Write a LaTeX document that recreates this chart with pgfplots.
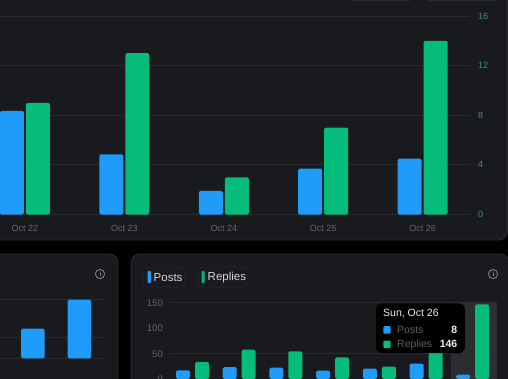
\documentclass[border=0pt]{standalone}
\usepackage{fontspec}
\setmainfont{Liberation Sans}
\usepackage{pgfplots}
\pgfplotsset{compat=1.18}
\definecolor{pg}{HTML}{000000}
\definecolor{panel}{HTML}{191A1E}
\definecolor{edge}{HTML}{2B2C30}
\definecolor{gridc}{HTML}{2A2B2F}
\definecolor{blueb}{HTML}{1F9BFA}
\definecolor{greenb}{HTML}{06BC7A}
\definecolor{lab}{HTML}{66676B}
\definecolor{greenlab}{HTML}{3F9472}
\definecolor{icon}{HTML}{85868A}
\definecolor{band}{HTML}{2D2E32}
\definecolor{legedge}{HTML}{27282D}
\definecolor{legtext}{HTML}{D6D6D8}
\definecolor{tiptitle}{HTML}{EDEDED}
\definecolor{tiplab}{HTML}{5F6064}
\definecolor{tipval}{HTML}{F0F0F0}
\pgfplotsset{
  base/.style={scale only axis, axis line style={draw=none}, tick style={draw=none},
    /pgf/number format/assume math mode=true, ymajorgrids, grid style={gridc, line width=0.8pt},
    enlargelimits=false, ybar, clip=false, at={(0,0)}, anchor=origin},
  bb/.style={fill=blueb, draw=none, rounded corners=1.5pt},
  gb/.style={fill=greenb, draw=none, rounded corners=1.5pt},
}
\newcommand{\infoicon}[2]{%
  \draw[icon, line width=0.8pt] (#1,#2) circle (4.6);
  \fill[icon] (#1,#2+2) circle (0.7);
  \draw[icon, line width=0.9pt] (#1,#2+0.7) -- (#1,#2-2.4);
}
\makeatletter
\newcommand{\forcebbox}{%
  \global\pgf@picminx=0pt\relax
  \global\pgf@picminy=0pt\relax
  \global\pgf@picmaxx=508pt\relax
  \global\pgf@picmaxy=378pt\relax
  \pgf@relevantforpicturesizefalse}
\makeatother
\begin{document}
\begin{tikzpicture}[x=1pt,y=1pt]
\clip (0,0) rectangle (508,378);
\fill[pg] (-5,-5) rectangle (513,383);
% panels
\draw[edge, fill=panel, line width=0.8pt, rounded corners=9pt] (-20,138) rectangle (507.5,400);
\draw[edge, fill=panel, line width=0.8pt, rounded corners=9pt] (-20,-20) rectangle (118,124);
\draw[edge, fill=panel, line width=0.8pt, rounded corners=9pt] (131,-20) rectangle (509,124);
% buttons cut by the top edge
\draw[edge, line width=0.6pt] (352,378) -- (410,378);
\draw[edge, line width=0.6pt] (427,378) -- (496,378);
% hover band
\fill[band] (451,-1) rectangle (497,76);
% main chart
\begin{scope}[shift={(0,163.5)}]
\begin{axis}[base, anchor=south west, width=470pt, height=198.5pt,
  xmin=-0.2515, xmax=4.477, ymin=0, ymax=16,
  xtick={0,1,2,3,4}, xticklabels={Oct 22,Oct 23,Oct 24,Oct 25,Oct 26},
  ytick={0,4,8,12,16}, yticklabel pos=right,
  xticklabel style={font=\fontsize{9}{9}\selectfont, text=lab, inner sep=0pt, yshift=-6pt},
  yticklabel style={font=\fontsize{9}{9}\selectfont, text=greenlab, inner sep=0pt, anchor=west, xshift=8pt}]
\addplot[bb, bar width=24pt, bar shift=-13pt] coordinates {(0,8.36) (1,4.85) (2,1.9) (3,3.7) (4,4.5)};
\addplot[gb, bar width=24pt, bar shift=13pt] coordinates {(0,9) (1,13) (2,3) (3,7) (4,14)};
\end{axis}
\end{scope}
% bottom-left chart
\begin{scope}[shift={(0,19.7)}]
\begin{axis}[base, anchor=south west, width=104pt, height=59pt,
  xmin=-0.7097, xmax=1.527, ymin=0, ymax=59,
  xtick=\empty, ytick={0,21,59}, yticklabels={}]
\addplot[bb, bar width=23.5pt, bar shift=0pt] coordinates {(0,29.6) (1,58.6)};
\end{axis}
\end{scope}
% bottom-right chart
\begin{scope}[shift={(170,-0.8)}]
\begin{axis}[base, anchor=south west, width=327pt, height=76.5pt,
  xmin=-0.482, xmax=6.52, ymin=0, ymax=150,
  xtick=\empty, ytick={0,50,100,150}, ymajorgrids=false, yminorgrids, minor ytick={50,150},
  minor grid style={gridc, line width=0.8pt},
  yticklabel style={font=\fontsize{9.5}{9.5}\selectfont, text=lab, inner sep=0pt, anchor=east, xshift=-7pt, yshift=-0.8pt}]
\addplot[bb, bar width=14pt, bar shift=-9.5pt] coordinates {(0,16.7) (1,23) (2,21.8) (3,16) (4,20) (5,30) (6,8)};
\addplot[gb, bar width=14pt, bar shift=9.5pt] coordinates {(0,33) (1,57) (2,54) (3,42) (4,24) (5,70) (6,146)};
\end{axis}
\end{scope}
% legend
\draw[legedge, line width=0.7pt, rounded corners=4pt] (143,91) rectangle (185,111);
\draw[legedge, line width=0.7pt, rounded corners=4pt] (198,91) rectangle (248,111);
\fill[blueb, rounded corners=0.8pt] (147.5,95) rectangle (151,107);
\fill[greenb, rounded corners=0.8pt] (201.5,95) rectangle (204.5,107);
\node[anchor=west, inner sep=0pt, text=legtext, font=\fontsize{11.5}{11.5}\selectfont] at (153.5,100.5) {Posts};
\node[anchor=west, inner sep=0pt, text=legtext, font=\fontsize{11.5}{11.5}\selectfont] at (207.5,100.5) {Replies};
% info icons
\infoicon{100}{104}
\infoicon{493}{104}
% tooltip
\fill[black, rounded corners=6pt] (376,25) rectangle (465,74.7);
\node[anchor=west, inner sep=0pt, text=tiptitle, font=\fontsize{10.5}{10.5}\selectfont] at (383,64) {Sun, Oct 26};
\fill[blueb, rounded corners=1pt] (383.3,44.4) rectangle (390.7,51.8);
\fill[greenb, rounded corners=1pt] (383.3,30) rectangle (390.7,37.4);
\node[anchor=west, inner sep=0pt, text=tiplab, font=\fontsize{10.5}{10.5}\selectfont] at (397,48) {Posts};
\node[anchor=west, inner sep=0pt, text=tiplab, font=\fontsize{10.5}{10.5}\selectfont] at (397,33.7) {Replies};
\node[anchor=east, inner sep=0pt, text=tipval, font=\fontsize{10.5}{10.5}\selectfont\bfseries] at (457.5,48) {8};
\node[anchor=east, inner sep=0pt, text=tipval, font=\fontsize{10.5}{10.5}\selectfont\bfseries] at (457.5,33.7) {146};
\forcebbox
\end{tikzpicture}
\end{document}
